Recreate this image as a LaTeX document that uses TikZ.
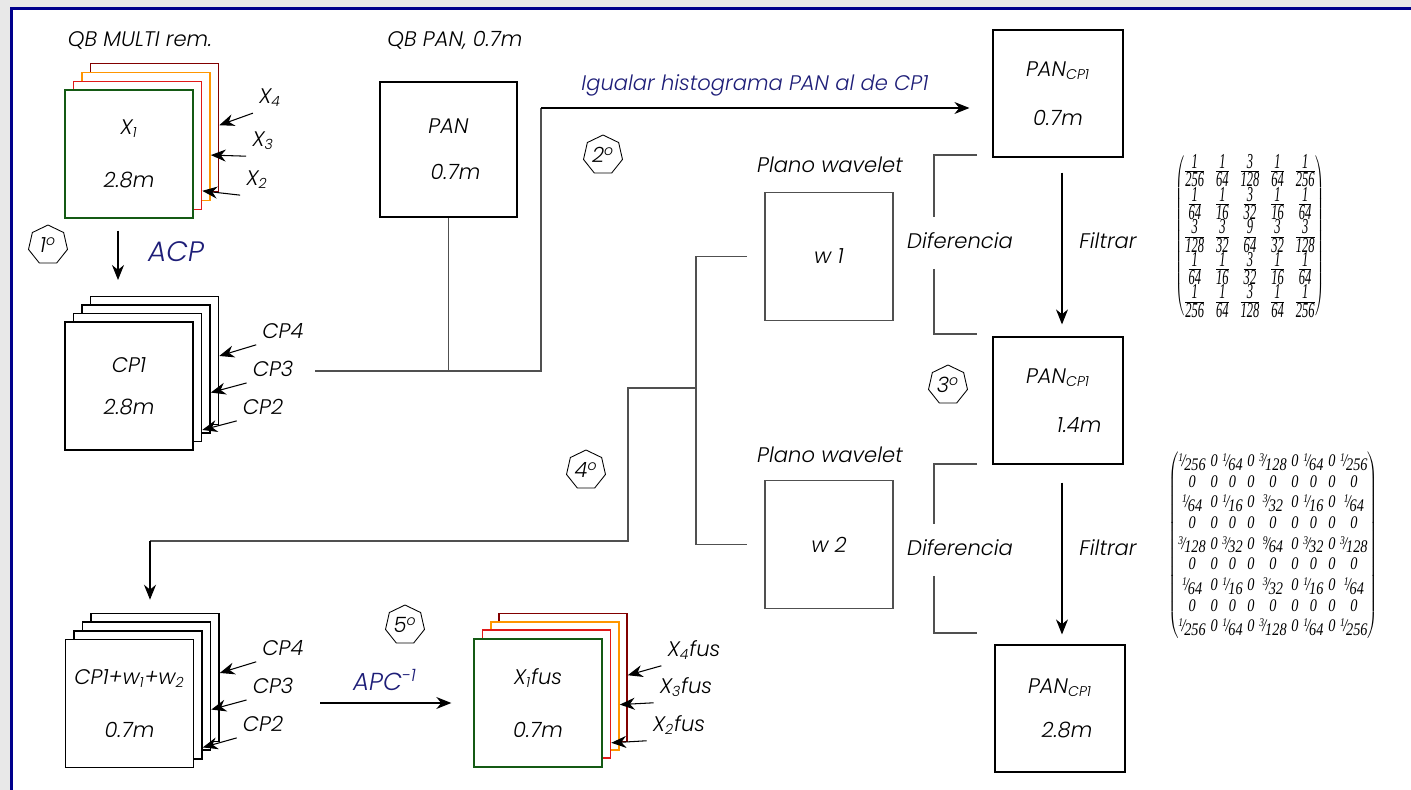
\documentclass[tikz,border=0pt]{standalone}
\usepackage{fontspec}
\setmainfont{Poppins}[UprightFont={* Light},ItalicFont={* Light Italic}]
\newfontfamily\matfont{Liberation Serif}
\usetikzlibrary{arrows.meta,shapes.geometric}
\definecolor{navytxt}{RGB}{30,30,120}
\definecolor{framecol}{RGB}{0,0,140}
\definecolor{xgreen}{RGB}{20,90,20}
\definecolor{xred}{RGB}{225,25,25}
\definecolor{xorange}{RGB}{255,150,0}
\definecolor{xdarkred}{RGB}{130,0,0}
\definecolor{linegray}{RGB}{80,80,80}
\newcommand{\mf}{\matfont\itshape}
\newcommand{\fr}[2]{\frac{\mbox{\mf #1}}{\mbox{\mf #2}}}
\newcommand{\sfr}[2]{\mbox{\raisebox{.5ex}{\footnotesize\mf #1}\kern-.12em{\mf /}\kern-.08em\raisebox{-.4ex}{\mf #2}}}
\newcommand{\zr}{\mbox{\mf 0}}

\begin{document}
\begin{tikzpicture}[x=0.02cm, y=-0.02cm,
    font=\fontsize{12}{14}\selectfont\itshape,
    box/.style={draw, fill=white, line width=0.8pt, minimum width=2.56cm,
      minimum height=2.56cm, inner sep=0pt, align=center},
    layer/.style={draw, fill=white, line width=0.9pt, minimum width=2.56cm,
      minimum height=2.56cm, inner sep=0pt},
    panbox/.style={draw, fill=white, line width=0.7pt, minimum width=2.6cm,
      minimum height=2.54cm, inner sep=0pt, align=center},
    arr/.style={-{Stealth[length=0.3cm,width=0.24cm]}, line width=0.6pt},
    sarr/.style={-{Stealth[length=0.3cm,width=0.24cm]}, line width=0.6pt},
    conn/.style={linegray, line width=0.6pt},
    stepmark/.style={draw, regular polygon, regular polygon sides=7,
      minimum size=0.8cm, inner sep=0pt, line width=0.5pt},
    blue text/.style={navytxt}]
  \useasboundingbox (0,0) rectangle (1411,790);
  % frame
  \fill[gray!18] (0,0) rectangle (1411,790);
  \fill[white] (11,8) rectangle (1411,790);
  \draw[framecol, line width=1.2pt] (11.5,790) -- (11.5,8.5) -- (1411,8.5);

  % multispectral bands
  \node (tmulti) at (140,40) {QB MULTI rem.};
  \node[layer, draw=xdarkred] (xl4) at (154.5,127.5) {};
  \node[layer, draw=xorange] (xl3) at (146,136.5) {};
  \node[layer, draw=xred] (xl2) at (137.5,145.5) {};
  \node[box, draw=xgreen] (xl1) at (129,154) {X\textsubscript{1}\\[16pt]2.8m};
  \node (lx4) at (270,98) {X\textsubscript{4}};
  \node (lx3) at (263,141) {X\textsubscript{3}};
  \node (lx2) at (257,180) {X\textsubscript{2}};
  \draw[sarr] (lx4.south west) -- (xl4.2);
  \draw[sarr] (lx3.south west) -- (xl3.-16);
  \draw[sarr] (lx2.south west) -- (xl2.-35);

  \node[stepmark] (s1) at (48,245) {1\textsuperscript{o}};
  \draw[arr, shorten <=0.24cm, shorten >=0.36cm] ([xshift=-0.22cm]xl1.south)
    -- ([xshift=-0.22cm]xl1.south |- 0,298);
  \node[blue text, font=\fontsize{16}{18}\selectfont\itshape] (tacp) at (176,252) {ACP};

  % principal components
  \node[layer] (cpa4) at (154.5,360.5) {};
  \node[layer] (cpa3) at (146,369) {};
  \node[layer] (cpa2) at (137.5,377.5) {};
  \node[box] (cpa1) at (129,386) {CP1\\[10pt]2.8m};
  \node (lcpa4) at (283,331) {CP4};
  \node (lcpa3) at (273,369) {CP3};
  \node (lcpa2) at (263,407) {CP2};
  \draw[sarr] (lcpa4.south west) -- (cpa4.4);
  \draw[sarr] (lcpa3.south west) -- (cpa3.-20);
  \draw[sarr] (lcpa2.south west) -- (cpa2.-39);

  % pan
  \node (tpan) at (455,40) {QB PAN, 0.7m};
  \node[panbox, line width=1.3pt, minimum width=2.74cm, minimum height=2.7cm]
    (pan) at (448.5,149.5) {PAN\\[12pt]\hspace*{8pt}0.7m};
  \coordinate (c0) at (315,371);
  \coordinate (bend) at (541,108);
  \draw[conn] (pan.south) -- (pan.south |- c0);
  \draw[conn] (c0) -- (c0 -| bend) -- (bend);
  \node[stepmark] (s2) at (603,155) {2\textsuperscript{o}};

  % pan levels
  \node[panbox] (pan1) at (1058,93.5) {PAN\textsubscript{CP1}\\[14pt]0.7m};
  \node[panbox] (pan2) at (1058,400.5) {PAN\textsubscript{CP1}\\[14pt]\hspace*{24pt}1.4m};
  \node[panbox] (pan3) at (1060,708.5) {PAN\textsubscript{CP1}\\[11pt]\hspace*{8pt}2.8m};
  \draw[arr, shorten >=0.46cm] (bend) -- (pan1.west |- bend);
  \node[blue text] (tigual) at (755,85) {Igualar histograma PAN al de CP1};
  \draw[arr, shorten <=0.3cm, shorten >=0.24cm] (pan1.south -| 1062,0) -- (pan2.north -| 1062,0);
  \draw[arr, shorten <=0.36cm, shorten >=0.2cm] (pan2.south -| 1062,0) -- (pan3.north -| 1062,0);
  \node (tfil1) at (1108,241) {Filtrar};
  \node (tfil2) at (1108,548) {Filtrar};
  \node[stepmark] (s3) at (948,385) {3\textsuperscript{o}};

  % differences
  \node (tdif1) at (960,241) {Diferencia};
  \node (tdif2) at (960,548) {Diferencia};
  \draw[conn] (977,155) -- (934,155) -- (934,217);
  \draw[conn] (934,269) -- (934,334) -- (977,334);
  \draw[conn] (977,464) -- (934,464) -- (934,524);
  \draw[conn] (934,576) -- (934,633) -- (977,633);

  % wavelet planes
  \node (tw1) at (830,165) {Plano wavelet};
  \node[layer, draw=linegray, align=center] (w1) at (829,256.5) {w 1};
  \node (tw2) at (830,455) {Plano wavelet};
  \node[layer, draw=linegray, align=center] (w2) at (829,544.5) {w 2};
  \coordinate (t1) at (696,388);
  \coordinate (t2) at (628,541);
  \coordinate (t3) at (150,541);
  \draw[conn] ([xshift=-0.34cm]w1.west) -| (t1) |- ([xshift=-0.34cm]w2.west);
  \draw[conn] (t1) -| (t2) -- (t3);
  \node[stepmark] (s4) at (586,470) {4\textsuperscript{o}};

  % fused components
  \node[layer] (cpb4) at (155,677.5) {};
  \node[layer] (cpb3) at (146.5,686) {};
  \node[layer] (cpb2) at (138,695) {};
  \node[box] (cpb1) at (129.5,703.5) {CP1+w\textsubscript{1}+w\textsubscript{2}\\[16pt]0.7m};
  \draw[arr, shorten >=0.26cm] (t3) -- (t3 |- cpb4.north);
  \node (lcpb4) at (283,648) {CP4};
  \node (lcpb3) at (273,686) {CP3};
  \node (lcpb2) at (263,724) {CP2};
  \draw[sarr] (lcpb4.south west) -- (cpb4.4);
  \draw[sarr] (lcpb3.south west) -- (cpb3.-20);
  \draw[sarr] (lcpb2.south west) -- (cpb2.-39);

  % inverse transform
  \node[stepmark] (s5) at (405,625) {5\textsuperscript{o}};
  \node[blue text, font=\fontsize{14}{16}\selectfont\itshape] (tapc) at (385,680) {APC\textsuperscript{-1}};
  \coordinate (c1) at (320,703);

  % fused bands
  \node[layer, draw=xdarkred] (xfl4) at (563,677.5) {};
  \node[layer, draw=xorange] (xfl3) at (555,686) {};
  \node[layer, draw=xred] (xfl2) at (546.5,694) {};
  \node[box, draw=xgreen] (xfl1) at (538,703) {X\textsubscript{1}fus\\[16pt]0.7m};
  \draw[arr, shorten >=0.44cm] (c1) -- (xfl1.west);
  \node (lxf4) at (694,650) {X\textsubscript{4}fus};
  \node (lxf3) at (686,687) {X\textsubscript{3}fus};
  \node (lxf2) at (679,725) {X\textsubscript{2}fus};
  \draw[sarr] (lxf4.south west) -- (xfl4.2);
  \draw[sarr] (lxf3.south west) -- (xfl3.-16);
  \draw[sarr] (lxf2.south west) -- (xfl2.-37);

  % filter kernels
  \node[inner sep=0pt] (k1) at (1250,236) {\resizebox*{3cm}{3.26cm}{$\left(\begin{array}{@{}c@{\hspace{9pt}}c@{\hspace{9pt}}c@{\hspace{9pt}}c@{\hspace{9pt}}c@{}}
    \fr{1}{256} & \fr{1}{64} & \fr{3}{128} & \fr{1}{64} & \fr{1}{256}\\
    \fr{1}{64} & \fr{1}{16} & \fr{3}{32} & \fr{1}{16} & \fr{1}{64}\\
    \fr{3}{128} & \fr{3}{32} & \fr{9}{64} & \fr{3}{32} & \fr{3}{128}\\
    \fr{1}{64} & \fr{1}{16} & \fr{3}{32} & \fr{1}{16} & \fr{1}{64}\\
    \fr{1}{256} & \fr{1}{64} & \fr{3}{128} & \fr{1}{64} & \fr{1}{256}
    \end{array}\right)$}};
  \node[inner sep=0pt] (k2) at (1273,545) {\resizebox*{4.2cm}{3.72cm}{$\left(\begin{array}{@{}c@{\hspace{4pt}}c@{\hspace{4pt}}c@{\hspace{4pt}}c@{\hspace{4pt}}c@{\hspace{4pt}}c@{\hspace{4pt}}c@{\hspace{4pt}}c@{\hspace{4pt}}c@{}}
    \sfr{1}{256} & \zr & \sfr{1}{64} & \zr & \sfr{3}{128} & \zr & \sfr{1}{64} & \zr & \sfr{1}{256}\\
    \zr & \zr & \zr & \zr & \zr & \zr & \zr & \zr & \zr\\
    \sfr{1}{64} & \zr & \sfr{1}{16} & \zr & \sfr{3}{32} & \zr & \sfr{1}{16} & \zr & \sfr{1}{64}\\
    \zr & \zr & \zr & \zr & \zr & \zr & \zr & \zr & \zr\\
    \sfr{3}{128} & \zr & \sfr{3}{32} & \zr & \sfr{9}{64} & \zr & \sfr{3}{32} & \zr & \sfr{3}{128}\\
    \zr & \zr & \zr & \zr & \zr & \zr & \zr & \zr & \zr\\
    \sfr{1}{64} & \zr & \sfr{1}{16} & \zr & \sfr{3}{32} & \zr & \sfr{1}{16} & \zr & \sfr{1}{64}\\
    \zr & \zr & \zr & \zr & \zr & \zr & \zr & \zr & \zr\\
    \sfr{1}{256} & \zr & \sfr{1}{64} & \zr & \sfr{3}{128} & \zr & \sfr{1}{64} & \zr & \sfr{1}{256}
    \end{array}\right)$}};
\end{tikzpicture}
\end{document}
